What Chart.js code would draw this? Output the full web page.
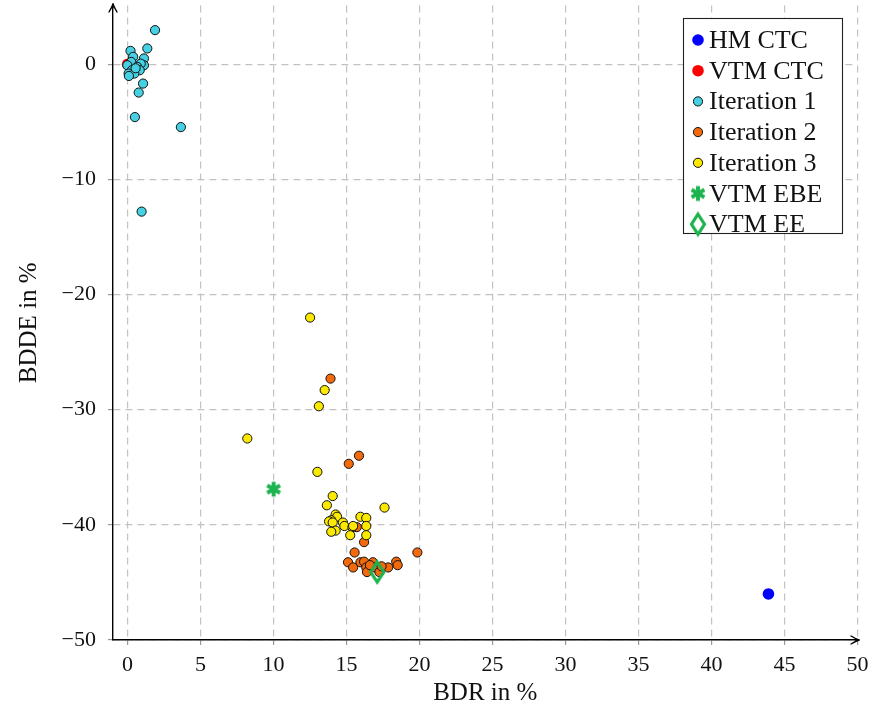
<!DOCTYPE html>
<html><head><meta charset="utf-8">
<script src="https://cdn.jsdelivr.net/npm/chart.js@4.4.0/dist/chart.umd.min.js"></script>
<style>html,body{margin:0;padding:0;background:#fff}</style>
</head><body>
<canvas id="c" width="880" height="709" style="width:880px;height:709px;display:block"></canvas>
<script>
// ---- data ----
const seriesNames = ['HM CTC', 'VTM CTC', 'Iteration 1', 'Iteration 2', 'Iteration 3', 'VTM EBE', 'VTM EE'];
const xTicks = [0, 5, 10, 15, 20, 25, 30, 35, 40, 45, 50];
const yTicks = [-50, -40, -30, -20, -10, 0];
const xTitle = 'BDR in %';
const yTitle = 'BDDE in %';

const hmCtc = [[43.9, -46.0]];
const vtmCtc = [[0, 0]];
const iteration1 = [
  [0.2, 1.16], [0.38, 0.64], [1.12, 0.5], [1.35, 1.37], [1.88, 2.96], [0.25, 0.2],
  [-0.02, -0.09], [1.12, -0.09], [0.9, 0.05], [0.66, -0.23], [0.3, -0.52], [0.83, -0.52],
  [0.07, -0.81], [0.46, -0.81], [0.09, -1.02], [0.55, -0.35], [1.06, -1.68], [0.76, -2.46],
  [0.5, -4.59], [3.65, -5.46], [0.96, -12.8]
];
const iteration2 = [
  [13.9, -27.3], [15.85, -34.0], [15.15, -34.7], [15.7, -40.2], [16.2, -41.5], [15.55, -42.4],
  [19.85, -42.4], [15.1, -43.25], [15.45, -43.7], [15.95, -43.25], [16.2, -43.2], [16.35, -43.7],
  [16.4, -44.1], [16.8, -43.25], [16.9, -43.7], [17.25, -44.1], [17.85, -43.7], [18.4, -43.2],
  [18.5, -43.5], [16.6, -43.5], [17.4, -43.6]
];
const iteration3 = [
  [12.5, -22.0], [13.5, -28.3], [13.1, -29.7], [8.2, -32.5], [13.0, -35.4], [14.05, -37.5],
  [13.65, -38.3], [17.6, -38.5], [14.25, -39.1], [14.35, -39.3], [13.95, -39.6], [13.8, -39.7],
  [14.05, -39.8], [14.75, -39.8], [14.85, -40.1], [14.25, -40.5], [13.95, -40.6], [15.4, -40.2],
  [15.45, -40.1], [15.95, -39.3], [16.35, -39.4], [16.35, -40.1], [15.25, -40.9], [16.35, -40.9]
];
const vtmEbe = [[10.0, -36.9]];
const vtmEe = [[17.1, -44.1]];

const seriesData = [hmCtc, vtmCtc, iteration1, iteration2, iteration3, vtmEbe, vtmEe];

// ---- styles ----
const GREEN = '#1db34f';
function makeAsterisk() {
  const c = document.createElement('canvas'); c.width = 20; c.height = 20;
  const g = c.getContext('2d');
  g.strokeStyle = GREEN; g.lineWidth = 3.9; g.lineCap = 'butt';
  const r = 7.4;
  for (let k = 0; k < 3; k++) {
    const a = Math.PI / 2 + k * Math.PI / 3;
    g.beginPath();
    g.moveTo(10 + r * Math.cos(a), 10 - r * Math.sin(a));
    g.lineTo(10 - r * Math.cos(a), 10 + r * Math.sin(a));
    g.stroke();
  }
  return c;
}
function makeDiamond() {
  const c = document.createElement('canvas'); c.width = 22; c.height = 28;
  const g = c.getContext('2d');
  g.strokeStyle = GREEN; g.lineWidth = 3.2; g.lineJoin = 'miter';
  g.beginPath();
  g.moveTo(11, 4); g.lineTo(17.5, 14); g.lineTo(11, 24); g.lineTo(4.5, 14); g.closePath();
  g.stroke();
  return c;
}
const asterisk = makeAsterisk();
const diamond = makeDiamond();

const styles = [
  {pointStyle: 'circle', backgroundColor: '#0000ff', borderColor: '#0000ff', borderWidth: 0, radius: 5.8},
  {pointStyle: 'circle', backgroundColor: '#ff0000', borderColor: '#ff0000', borderWidth: 0, radius: 5.8},
  {pointStyle: 'circle', backgroundColor: '#45d0e4', borderColor: '#111', borderWidth: 1, radius: 4.6},
  {pointStyle: 'circle', backgroundColor: '#f26a0c', borderColor: '#111', borderWidth: 1, radius: 4.6},
  {pointStyle: 'circle', backgroundColor: '#fbea00', borderColor: '#111', borderWidth: 1, radius: 4.6},
  {pointStyle: asterisk, backgroundColor: GREEN, borderColor: GREEN, borderWidth: 0, radius: 8},
  {pointStyle: diamond, backgroundColor: GREEN, borderColor: GREEN, borderWidth: 0, radius: 9}
];

const datasets = seriesData.map((arr, i) => ({
  label: seriesNames[i],
  data: arr.map(p => ({x: p[0], y: p[1]})),
  pointStyle: styles[i].pointStyle,
  backgroundColor: styles[i].backgroundColor,
  borderColor: styles[i].borderColor,
  borderWidth: styles[i].borderWidth,
  pointRadius: styles[i].radius,
  pointHoverRadius: styles[i].radius,
  order: seriesNames.length - i
}));

const SERIF = '"Liberation Serif", "DejaVu Serif", serif';
const minusFmt = v => String(v).replace('-', '\u2212');

const legendPlugin = {
  id: 'boxLegend',
  afterDraw(chart) {
    const ctx = chart.ctx;
    ctx.save();
    const bx = 683.5, by = 18.5, bw = 159, bh = 215;
    ctx.fillStyle = '#fff';
    ctx.fillRect(bx, by, bw, bh);
    ctx.strokeStyle = '#222'; ctx.lineWidth = 1.1;
    ctx.strokeRect(bx, by, bw, bh);
    ctx.font = '26px ' + SERIF;
    ctx.textBaseline = 'alphabetic';
    ctx.textAlign = 'left';
    seriesNames.forEach((name, i) => {
      const cy = 40 + i * 30.7;
      const cx = 698;
      const s = styles[i];
      if (s.pointStyle === 'circle') {
        const r = i < 2 ? 5.8 : 4.6;
        ctx.beginPath(); ctx.arc(cx, cy, r, 0, Math.PI * 2);
        ctx.fillStyle = s.backgroundColor; ctx.fill();
        if (s.borderWidth) { ctx.lineWidth = s.borderWidth; ctx.strokeStyle = s.borderColor; ctx.stroke(); }
      } else {
        const im = s.pointStyle;
        ctx.drawImage(im, cx - im.width / 2, cy - im.height / 2);
      }
      ctx.fillStyle = '#111';
      ctx.fillText(name, 709, cy + 8);
    });
    ctx.restore();
  }
};

const arrowPlugin = {
  id: 'axisArrows',
  afterDraw(chart) {
    const {ctx, chartArea: a} = chart;
    ctx.save();
    ctx.strokeStyle = '#000'; ctx.lineWidth = 1.4; ctx.lineCap = 'round'; ctx.lineJoin = 'round';
    const tx = a.right + 1.5, ty = a.bottom;
    ctx.beginPath(); ctx.moveTo(a.right - 2, ty); ctx.lineTo(tx, ty); ctx.stroke();
    ctx.beginPath();
    ctx.moveTo(tx - 8, ty - 4); ctx.quadraticCurveTo(tx - 3, ty - 1, tx, ty);
    ctx.quadraticCurveTo(tx - 3, ty + 1, tx - 8, ty + 4);
    ctx.stroke();
    const ux = a.left, uy = a.top - 1.5;
    ctx.beginPath(); ctx.moveTo(ux, a.top + 2); ctx.lineTo(ux, uy); ctx.stroke();
    ctx.beginPath();
    ctx.moveTo(ux - 4, uy + 8); ctx.quadraticCurveTo(ux - 1, uy + 3, ux, uy);
    ctx.quadraticCurveTo(ux + 1, uy + 3, ux + 4, uy + 8);
    ctx.stroke();
    ctx.restore();
  }
};

const gridOpts = {
  color: '#c2c2c2',
  lineWidth: 1.2,
  tickLength: 5,
  tickColor: '#999',
  drawTicks: true
};

new Chart(document.getElementById('c'), {
  type: 'scatter',
  data: {datasets},
  options: {
    responsive: false,
    animation: false,
    layout: {autoPadding: false, padding: {top: 5.5, right: 22.5, left: 0, bottom: 0}},
    plugins: {legend: {display: false}, tooltip: {enabled: false}},
    scales: {
      x: {
        type: 'linear', min: -1, max: 50,
        afterFit: s => { s.height = 69; s.paddingLeft = 0; s.paddingRight = 0; },
        afterBuildTicks: s => { s.ticks = xTicks.map(v => ({value: v})); },
        grid: gridOpts,
        border: {display: true, color: '#000', width: 1.4, dash: [7, 5]},
        ticks: {font: {family: SERIF, size: 22}, color: '#111', padding: 7, maxRotation: 0, autoSkip: false, callback: minusFmt},
        title: {display: true, text: xTitle, font: {family: SERIF, size: 25}, color: '#111', padding: {top: 0, bottom: 1}}
      },
      y: {
        type: 'linear', min: -50, max: 5.1,
        afterFit: s => { s.width = 113; s.paddingTop = 0; s.paddingBottom = 0; },
        afterBuildTicks: s => { s.ticks = yTicks.map(v => ({value: v})); },
        grid: gridOpts,
        border: {display: true, color: '#000', width: 1.4, dash: [7, 5]},
        ticks: {font: {family: SERIF, size: 22}, color: '#111', padding: 12, autoSkip: false, callback: minusFmt},
        title: {display: true, text: yTitle, font: {family: SERIF, size: 25}, color: '#111', padding: {top: 14, bottom: 0}}
      }
    }
  },
  plugins: [arrowPlugin, legendPlugin]
});
</script>
</body></html>
